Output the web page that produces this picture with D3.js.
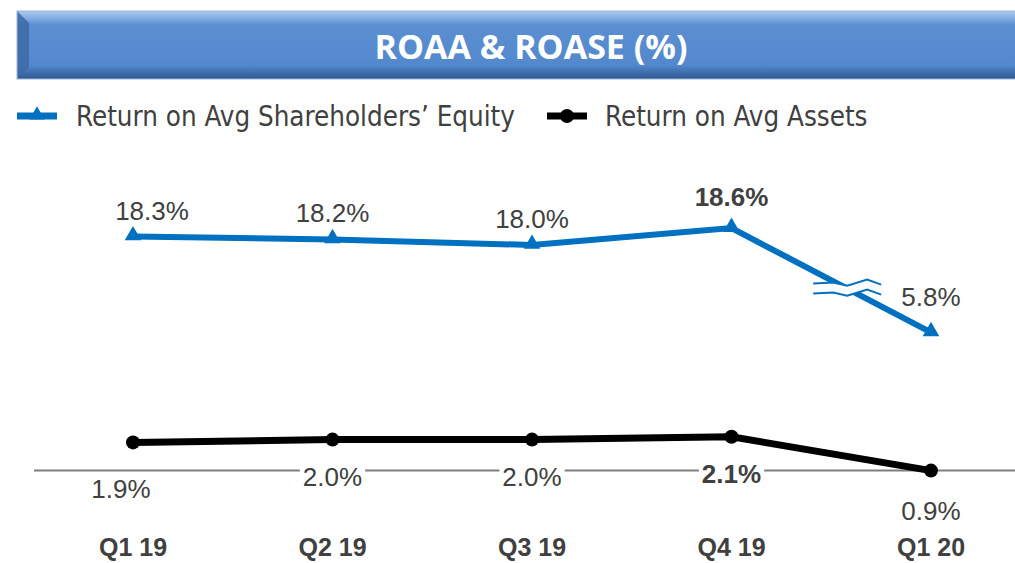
<!DOCTYPE html>
<html><head><meta charset="utf-8">
<script src="https://cdn.jsdelivr.net/npm/d3@7"></script>
<style>html,body{margin:0;padding:0;background:#fff;}svg{display:block;}</style>
</head><body>
<svg id="chart" width="1015" height="563"></svg>
<script>
const categories = ["Q1 19", "Q2 19", "Q3 19", "Q4 19", "Q1 20"];
const roase = [18.3, 18.2, 18.0, 18.6, 5.8];
const roaa = [1.9, 2.0, 2.0, 2.1, 0.9];
const roaseLabels = ["18.3%", "18.2%", "18.0%", "18.6%", "5.8%"];
const roaaLabels = ["1.9%", "2.0%", "2.0%", "2.1%", "0.9%"];
const boldIndex = 3;
const seriesNames = ["Return on Avg Shareholders\u2019 Equity", "Return on Avg Assets"];
const title = "ROAA & ROASE (%)";

const svg = d3.select("#chart");
const W = 1015, H = 563;
const blue = "#0070c0", textGray = "#404040";

// Title banner
const defs = svg.append("defs");
const g1 = defs.append("linearGradient").attr("id","ban").attr("x1",0).attr("y1",0).attr("x2",0).attr("y2",1);
[[0,"#a9c8ef"],[0.12,"#7eaae2"],[0.2,"#5b8fd2"],[0.8,"#5388cc"],[0.9,"#3f6fae"],[1,"#2e5690"]].forEach(s=>g1.append("stop").attr("offset",s[0]).attr("stop-color",s[1]));
const bx = 17, by = 11, bh = 68;
svg.append("rect").attr("x",bx).attr("y",by).attr("width",W-bx+5).attr("height",bh).attr("fill","url(#ban)");
svg.append("polygon").attr("points",`${bx},${by} ${bx+12},${by+12} ${bx+12},${by+bh-12} ${bx},${by+bh}`).attr("fill","#3d6aa6").attr("opacity",0.85);
svg.append("rect").attr("x",bx).attr("y",by).attr("width",W-bx+5).attr("height",bh).attr("fill","none").attr("stroke","#9bb6d6").attr("stroke-width",1);
svg.append("text").attr("x",531).attr("y",by+bh/2+1).attr("text-anchor","middle").attr("dominant-baseline","central")
  .attr("font-family","'Liberation Sans Narrow','Open Sans',sans-serif").attr("font-weight","bold").attr("font-size",34)
  .attr("fill","#fff").text(title);

// Scales
const x = d3.scalePoint().domain(categories).range([133, 931]);
const k = 28.2, base = 496;
const y = d3.scaleLinear().domain([0, 8, 17.1, 20]).range([base, base-8*k, base-8*k, base-10.9*k]);

// baseline axis line
svg.append("line").attr("x1",34).attr("x2",W).attr("y1",y(0.9)).attr("y2",y(0.9)).attr("stroke","#7f7f7f").attr("stroke-width",2);

// Lines
const line = d3.line().x((d,i)=>x(categories[i])).y(d=>y(d));
svg.append("path").datum(roase).attr("d",line).attr("fill","none").attr("stroke",blue).attr("stroke-width",6);
svg.append("path").datum(roaa).attr("d",line).attr("fill","none").attr("stroke","#000").attr("stroke-width",7);

// Break symbol on ROASE between Q4 19 and Q1 20
{
  const t = 0.58;
  const cx = x(categories[3]) + t*(x(categories[4])-x(categories[3]));
  const cy = y(roase[3]) + t*(y(roase[4])-y(roase[3]));
  const zig = [[-34,0],[-14,-1],[0,2],[20,-4],[34,1]];
  const gap = 10;
  const bl = d3.line();
  const top = zig.map(p=>[cx+p[0], cy-gap/2+p[1]]);
  const bot = zig.map(p=>[cx+p[0], cy+gap/2+p[1]]);
  svg.append("path").attr("d", bl(top.concat(bot.slice().reverse()))+"Z").attr("fill","#fff");
  svg.append("path").attr("d", bl(top)).attr("fill","none").attr("stroke",blue).attr("stroke-width",2);
  svg.append("path").attr("d", bl(bot)).attr("fill","none").attr("stroke",blue).attr("stroke-width",2);
}

// Markers
svg.selectAll(".tri").data(roase).join("path").attr("class","tri")
  .attr("d", d3.symbol(d3.symbolTriangle, 120))
  .attr("transform",(d,i)=>`translate(${x(categories[i])},${y(d)-1})`).attr("fill",blue);
svg.selectAll(".dot").data(roaa).join("circle").attr("class","dot")
  .attr("cx",(d,i)=>x(categories[i])).attr("cy",d=>y(d)).attr("r",7).attr("fill","#000");

// ROASE labels
svg.selectAll(".lblE").data(roase).join("text").attr("class","lblE")
  .attr("x",(d,i)=>x(categories[i]) + (i===0?19:0))
  .attr("y",(d,i)=>y(d) - (i===4?26:(i===boldIndex?22:17)))
  .attr("text-anchor","middle").attr("font-family","'Liberation Sans',Arial,sans-serif").attr("font-size",26)
  .attr("font-weight",(d,i)=>i===boldIndex?"bold":"normal").attr("fill",textGray)
  .text((d,i)=>roaseLabels[i]);

// ROAA labels with white backgrounds
const lblA = svg.selectAll(".lblA").data(roaa).join("g").attr("class","lblA");
lblA.each(function(d,i){
  const g = d3.select(this);
  const tx = x(categories[i]) + (i===0?-12:0);
  const ty = (i===0) ? y(d)+56 : (i===4 ? y(d)+49 : y(d)+46);
  const t = g.append("text").attr("x",tx).attr("y",ty).attr("text-anchor","middle")
    .attr("font-family","'Liberation Sans',Arial,sans-serif").attr("font-size",26)
    .attr("font-weight",i===boldIndex?"bold":"normal").attr("fill",textGray).text(roaaLabels[i]);
  const bb = t.node().getBBox();
  g.insert("rect","text").attr("x",bb.x-3).attr("y",bb.y).attr("width",bb.width+6).attr("height",bb.height).attr("fill","#fff");
});

// Category labels
svg.selectAll(".cat").data(categories).join("text").attr("class","cat")
  .attr("x",d=>x(d)).attr("y",556).attr("text-anchor","middle")
  .attr("font-family","'Liberation Sans',Arial,sans-serif").attr("font-weight","bold").attr("font-size",25)
  .attr("fill",textGray).text(d=>d);

// Legend
const legY = 116;
const leg = [{x:17, name:seriesNames[0], color:blue, sym:"tri", tx:76},{x:547, name:seriesNames[1], color:"#000", sym:"dot", tx:605}];
leg.forEach(L=>{
  svg.append("line").attr("x1",L.x).attr("x2",L.x+40).attr("y1",legY).attr("y2",legY).attr("stroke",L.color).attr("stroke-width",7);
  if(L.sym==="tri") svg.append("path").attr("d",d3.symbol(d3.symbolTriangle,100)).attr("transform",`translate(${L.x+20},${legY-1})`).attr("fill",L.color);
  else svg.append("circle").attr("cx",L.x+20).attr("cy",legY).attr("r",7).attr("fill",L.color);
  svg.append("text").attr("x",L.tx).attr("y",legY).attr("dominant-baseline","central")
    .attr("font-family","'DejaVu Sans Condensed','DejaVu Sans',Verdana,sans-serif").attr("font-stretch","condensed").attr("font-size",27.5)
    .attr("fill",textGray).text(L.name);
});
</script>
</body></html>
